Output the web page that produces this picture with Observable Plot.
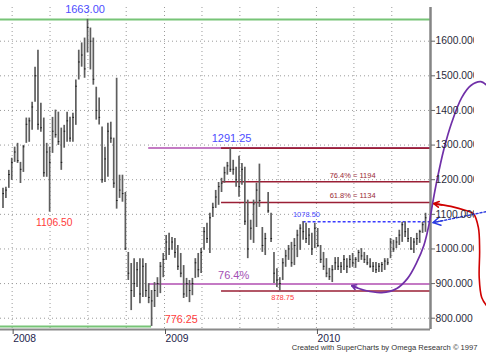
<!DOCTYPE html>
<html>
<head>
<meta charset="utf-8">
<script src="https://cdn.jsdelivr.net/npm/d3@7"></script>
<script src="https://cdn.jsdelivr.net/npm/@observablehq/plot@0.6"></script>
<style>
  html, body { margin: 0; padding: 0; background: #fff; }
  #chart { width: 486px; height: 354px; overflow: hidden; }
</style>
</head>
<body>
<div id="chart"></div>
<script>
// ---------- data ----------
const firstWeek = "2007-12-10";
const lastWeek = "2010-09-20";

const barHigh = [
  1175,1178,1227,1262,1294,1305,1250,1299,1378,1378,1424,1525,1574,1421,1378,1305,1294,
  1380,1401,1395,1349,1357,1395,1380,1392,1488,1574,1595,1609,1663,
  1638,1609,1467,1436,1352,1294,1363,1366,1320,1493,1213,1213,1163,990,958,972,961,972,972,958,900,880,
  903,917,961,987,1039,1045,1033,1030,1010,987,952,915,909,915,972,987,1001,1062,1074,1103,1132,1169,1192,1204,1236,1250,1291.25,
  1256,1236,1268,1247,1236,1141,1083,1141,1190,1245,1062,1045,1163,1103,990,943,917,
  972,996,1010,1019,1030,1054,1070,1078.5,
  1074,1059,1045,1074,1059,1010,990,972,944,952,975,975,961,981,972,981,987,975,996,1001,990,981,972,961,961,958,961,972,972,1030,1025,1033,1054,1077,1078,1059,1033,1030,1045,1054,1077,1103
];
const barLow = [
  1117,1146,1175,1198,1250,1247,1189,1221,1305,1308,1343,1424,1343,1337,1207,1207,1106.5,
  1276,1320,1299,1227,1291,1308,1308,1308,1357,1488,1525,1493,1566,
  1517,1473,1372,1358,1190,1192,1207,1305,1175,1115,1146,1135,996,909,822,860,889,842,860,860,842,776.25,
  831,860,871,917,967,981,996,973,938,917,857,860,845,865,915,917,929,996,1016,987,1091,1117,1126,1163,1190,1213,1221,
  1213,1178,1149,1184,1068,972,1025,1016,1062,1120,990,981,1103,1019,900,889,878.75,
  909,947,967,947,952,975,996,1025,
  1016,1010,981,1001,1004,958,938,917,909,903,938,938,929,938,929,944,947,944,961,967,958,952,944,932,929,932,932,938,952,972,990,1001,1010,1019,1033,1019,996,987,1010,1016,1045,1048
];
const barClose = [
  1160,1170,1215,1250,1280,1255,1230,1295,1360,1370,1410,1500,1360,1350,1220,1280,1250,
  1340,1330,1310,1250,1340,1370,1320,1380,1470,1540,1560,1520,1640,
  1600,1490,1400,1380,1200,1260,1340,1320,1190,1140,1170,1160,1000,930,880,900,940,870,950,880,860,850,
  880,900,950,970,1020,1000,1020,990,950,930,870,900,880,900,960,940,990,1050,1030,1090,1120,1150,1180,1190,1220,1240,1230,
  1230,1200,1180,1230,1080,1000,1060,1130,1170,1140,1010,1030,1110,1030,930,910,900,
  960,980,1000,960,1010,1040,1060,1050,
  1030,1040,1000,1060,1010,970,950,930,920,940,960,950,950,970,950,970,960,970,990,980,970,960,950,950,940,950,955,965,960,1020,1000,1020,1040,1070,1050,1030,1000,1020,1030,1050,1070,1090
];

// scales / ticks
const xDomain = ["2007-12-04", "2010-10-02"];
const yDomain = [767.4, 1697.3];
const yearTicks = ["2008-01-01", "2009-01-01", "2010-01-01"];
const gridDates = ["2008-01-01","2008-04-01","2008-07-01","2008-10-01","2009-01-01","2009-04-01","2009-07-01","2009-10-01","2010-01-01","2010-04-01","2010-07-01"];
const priceTicks = [800, 900, 1000, 1100, 1200, 1300, 1400, 1500, 1600];

// horizontal levels
const greenLevels = [1663, 776.25];
const greenFrom = ["2007-12-04", "2007-12-04"];
const greenTo = ["2010-10-02", "2008-12-01"];
const fibLevels = [1291.25, 899];
const fibFrom = ["2008-11-24", "2008-11-24"];
const fibTo = ["2010-10-02", "2010-10-02"];
const redLevels = [1291.25, 1194, 1134, 878.75];
const redFrom = "2009-05-18";
const redTo = "2010-10-02";
const blueLevel = 1078.5;
const blueFrom = "2009-11-30";
const blueTo = "2010-10-02";

// labels
const highLabelText = ["1663.00", "1291.25"];
const highLabelDates = ["2008-06-24", "2009-06-11"];
const highLabelValues = [1663, 1291.25];
const fibLabelText = ["76.4% = 1194", "61.8% = 1134"];
const fibLabelDate = "2010-03-29";
const fibLabelValues = [1194, 1134];
const retraceLabel = "76.4%";
const retraceDate = "2009-06-16";
const retraceValue = 899;
const low1Label = "1106.50", low1Date = "2008-04-11", low1Value = 1106.5;
const low2Label = "776.25", low2Date = "2009-02-10", low2Value = 776.25;
const low3Label = "878.75", low3Date = "2009-10-12", low3Value = 878.75;
const blueLabel = "1078.50", blueLabelDate = "2009-12-08";
const footer = "Created with SuperCharts by Omega Research \u00a9 1997";

// hand-drawn arrows (date, price); the first point is the arrow tip
const purpleDates = ["2010-03-27","2010-04-29","2010-06-07","2010-07-13","2010-08-08","2010-08-30","2010-09-16","2010-09-28","2010-10-07","2010-10-17","2010-11-03","2010-11-22","2010-12-16","2011-01-07","2011-01-31","2011-02-17"];
const purpleValues = [894, 880, 874, 886, 915, 961, 1010, 1068, 1131, 1195, 1287, 1365, 1437, 1472, 1483, 1469];
const redArrowDates = ["2010-10-10","2010-11-20","2010-12-26","2011-01-13","2011-01-25","2011-01-28","2011-01-27","2011-02-02","2011-02-14"];
const redArrowValues = [1131, 1123, 1111, 1102, 1062, 996, 918, 860, 836];
const blueArrowDates = ["2010-10-08", "2011-02-14"];
const blueArrowValues = [1076, 1108];

// ---------- build ----------
const D = s => new Date(s);
const weeks = d3.utcMonday.range(D(firstWeek), d3.utcDay.offset(D(lastWeek), 1));
const bars = weeks.map((date, i) => ({date, high: barHigh[i], low: barLow[i], close: barClose[i]}));
const pts = (dates, values) => dates.map((d, i) => ({date: D(d), value: values[i]}));
const head = (p) => [{x1: p[1].date, y1: p[1].value, x2: p[0].date, y2: p[0].value}];
const purplePts = pts(purpleDates, purpleValues);
const redPts = pts(redArrowDates, redArrowValues);
const bluePts = pts(blueArrowDates, blueArrowValues);
const FONT = "Arial, 'Liberation Sans', Helvetica, sans-serif";
const hasAxisMarks = typeof Plot.axisX === "function";

const marks = [
  // dotted grid
  Plot.ruleY(priceTicks, {stroke: "#9a9a9a", strokeDasharray: "1,3", strokeWidth: 1}),
  Plot.ruleX(gridDates.map(D), {stroke: "#9a9a9a", strokeDasharray: "1,3", strokeWidth: 1}),
  // levels
  Plot.ruleY(greenLevels.map((v, i) => ({v, a: D(greenFrom[i]), b: D(greenTo[i])})), {y: "v", x1: "a", x2: "b", stroke: "#77c477", strokeWidth: 2}),
  Plot.ruleY(fibLevels.map((v, i) => ({v, a: D(fibFrom[i]), b: D(fibTo[i])})), {y: "v", x1: "a", x2: "b", stroke: "#c47ac4", strokeWidth: 2}),
  Plot.ruleY(redLevels.map(v => ({v, a: D(redFrom), b: D(redTo)})), {y: "v", x1: "a", x2: "b", stroke: "#9a1f35", strokeWidth: 1.6}),
  Plot.ruleY([{v: blueLevel, a: D(blueFrom), b: D(blueTo)}], {y: "v", x1: "a", x2: "b", stroke: "#3a3aff", strokeWidth: 1.3, strokeDasharray: "3,2"}),
  // OHLC bars
  Plot.ruleX(bars, {x: "date", y1: "low", y2: "high", stroke: "#5e5e5e", strokeWidth: 1.7}),
  Plot.ruleY(bars, {x1: "date", x2: "date", y: "close", insetRight: -1.5, stroke: "#1a1a1a", strokeWidth: 1}),
  // frame lines
  Plot.ruleX([D(xDomain[1])], {stroke: "#858585", strokeWidth: 2.5}),
  Plot.ruleY([yDomain[0]], {stroke: "#8a8a8a", strokeWidth: 2}),
  // labels
  Plot.text(highLabelText.map((t, i) => ({t, date: D(highLabelDates[i]), v: highLabelValues[i]})), {x: "date", y: "v", text: "t", dy: -9.5, fill: "#4d4dff", fontSize: 11}),
  Plot.text(fibLabelText.map((t, i) => ({t, date: D(fibLabelDate), v: fibLabelValues[i]})), {x: "date", y: "v", text: "t", dy: -6.5, fill: "#9a2a35", fontSize: 7.5}),
  Plot.text([{t: retraceLabel, date: D(retraceDate), v: retraceValue}], {x: "date", y: "v", text: "t", dy: -8, fill: "#a450b4", fontSize: 11}),
  Plot.text([{t: low1Label, date: D(low1Date), v: low1Value}], {x: "date", y: "v", text: "t", dy: 11, fill: "#ff3b3b", fontSize: 10.3}),
  Plot.text([{t: low2Label, date: D(low2Date), v: low2Value}], {x: "date", y: "v", text: "t", dy: -7, fill: "#ff3b3b", fontSize: 10.8}),
  Plot.text([{t: low3Label, date: D(low3Date), v: low3Value}], {x: "date", y: "v", text: "t", dy: 7, fill: "#ff3b3b", fontSize: 7.5}),
  Plot.text([{t: blueLabel, date: D(blueLabelDate), v: blueLevel}], {x: "date", y: "v", text: "t", dy: -7.5, fill: "#4d4dff", fontSize: 7.5}),
  // arrows: curves + open arrowheads
  Plot.line(purplePts, {x: "date", y: "value", curve: "catmull-rom", stroke: "#7030a8", strokeWidth: 1.7}),
  Plot.arrow(head(purplePts), {x1: "x1", y1: "y1", x2: "x2", y2: "y2", insetStart: 9, headLength: 9, stroke: "#7030a8", strokeWidth: 1.7}),
  Plot.line(redPts, {x: "date", y: "value", curve: "catmull-rom", stroke: "#d00000", strokeWidth: 1.6}),
  Plot.arrow(head(redPts), {x1: "x1", y1: "y1", x2: "x2", y2: "y2", insetStart: 9, headLength: 9, stroke: "#d00000", strokeWidth: 1.6}),
  Plot.line(bluePts, {x: "date", y: "value", stroke: "#2a3ae0", strokeWidth: 1.4, strokeDasharray: "2,2"}),
  Plot.arrow(head(bluePts), {x1: "x1", y1: "y1", x2: "x2", y2: "y2", insetStart: 45, headLength: 9, stroke: "#2a3ae0", strokeWidth: 1.4}),
  // footer
  Plot.text([footer], {frameAnchor: "bottom-right", textAnchor: "end", dx: 47, dy: 20, fontSize: 7.6, fill: "#333"})
];

if (hasAxisMarks) {
  marks.push(
    Plot.axisY(priceTicks, {anchor: "right", tickSize: 4, tickPadding: 1, tickFormat: d3.format(".3f"), fontSize: 10.3, fill: "#2a2a3a", stroke: "#666", label: null}),
    Plot.axisX(yearTicks.map(D), {anchor: "bottom", tickSize: 5, tickPadding: 0, tickFormat: d3.utcFormat("%Y"), textAnchor: "start", dx: 1, fontSize: 10.3, fill: "#24244c", stroke: "#555", label: null})
  );
}

const chart = Plot.plot({
  width: 486,
  height: 354,
  marginTop: 7,
  marginBottom: 25,
  marginLeft: 0,
  marginRight: 56,
  style: {fontFamily: FONT, background: "white", color: "#222", overflow: "visible"},
  x: hasAxisMarks
    ? {type: "utc", domain: xDomain.map(D)}
    : {type: "utc", domain: xDomain.map(D), ticks: yearTicks.map(D), tickFormat: d3.utcFormat("%Y"), tickSize: 5, label: null},
  y: hasAxisMarks
    ? {domain: yDomain}
    : {domain: yDomain, axis: "right", ticks: priceTicks, tickFormat: d3.format(".3f"), tickSize: 4, label: null},
  marks
});
document.getElementById("chart").appendChild(chart);

// the price labels are cut off by the panel edge, as in the original
(function clipPriceLabels() {
  const svg = chart.tagName.toLowerCase() === "svg" ? chart : chart.querySelector("svg");
  if (!svg) return;
  const NS = "http://www.w3.org/2000/svg";
  const defs = document.createElementNS(NS, "defs");
  const cp = document.createElementNS(NS, "clipPath");
  cp.setAttribute("id", "price-label-clip");
  const r = document.createElementNS(NS, "rect");
  r.setAttribute("x", 0); r.setAttribute("y", 0);
  r.setAttribute("width", 474); r.setAttribute("height", 354);
  cp.appendChild(r); defs.appendChild(cp); svg.insertBefore(defs, svg.firstChild);
  svg.querySelectorAll('g[aria-label="y-axis tick label"]').forEach(g => {
    const wrap = document.createElementNS(NS, "g");
    wrap.setAttribute("clip-path", "url(#price-label-clip)");
    g.parentNode.insertBefore(wrap, g);
    wrap.appendChild(g);
  });
})();
</script>
</body>
</html>
